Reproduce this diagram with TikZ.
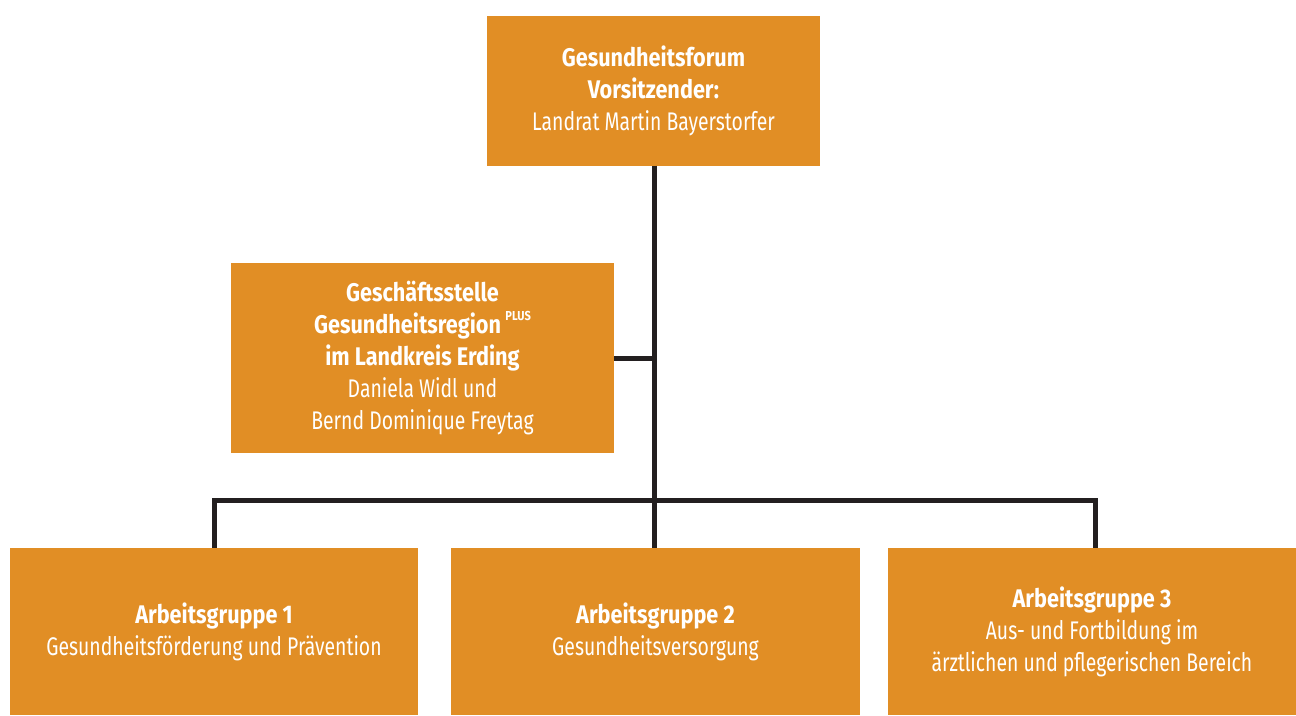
\documentclass[tikz,border=0pt]{standalone}
\usepackage{fontspec}
\setmainfont[FakeStretch=0.76,BoldFeatures={FakeStretch=0.85}]{Fira Sans}
\definecolor{boxorange}{HTML}{E18E25}
\definecolor{lineblack}{HTML}{231F20}
\begin{document}
\begin{tikzpicture}[x=1pt,y=-1pt,
  box/.style={fill=boxorange,draw=none,text=white,align=center,inner sep=0pt,
    font=\fontsize{25.5}{32}\selectfont},
  conn/.style={draw=lineblack,line width=5pt}]
\useasboundingbox (0,0) rectangle (1296,715);
\node[box,minimum width=333pt,minimum height=150pt] (top) at (653.5,90.5)
  {\textbf{Gesundheitsforum}\\\textbf{Vorsitzender:}\\Landrat Martin Bayerstorfer};
\node[box,minimum width=383pt,minimum height=190pt] (gs) at (422.5,358)
  {\textbf{Geschäftsstelle}\\\textbf{Gesundheitsregion\,\raisebox{0.95ex}{\fontsize{13}{13}\selectfont PLUS}}\\\textbf{im Landkreis Erding}\\Daniela Widl und\\Bernd Dominique Freytag};
\node[box,minimum width=408pt,minimum height=167pt] (ag1) at (214,631.5)
  {\textbf{Arbeitsgruppe 1}\\Gesundheitsförderung und Prävention};
\node[box,minimum width=409pt,minimum height=167pt] (ag2) at (655.5,631.5)
  {\textbf{Arbeitsgruppe 2}\\Gesundheitsversorgung};
\node[box,minimum width=408pt,minimum height=167pt] (ag3) at (1092,631.5)
  {\textbf{Arbeitsgruppe 3}\\Aus- und Fortbildung im\\ärztlichen und pflegerischen Bereich};
\coordinate (bus) at (654,500);
\coordinate (bl) at (214,500);
\coordinate (br) at (1095,500);
\draw[conn] (top.south -| bus) -- (ag2.north -| bus);
\draw[conn] (gs.east) -- (gs.east -| bus);
\draw[conn] (ag1.north) -- (bl) -- (br) -- (br |- ag3.north);
\end{tikzpicture}
\end{document}
